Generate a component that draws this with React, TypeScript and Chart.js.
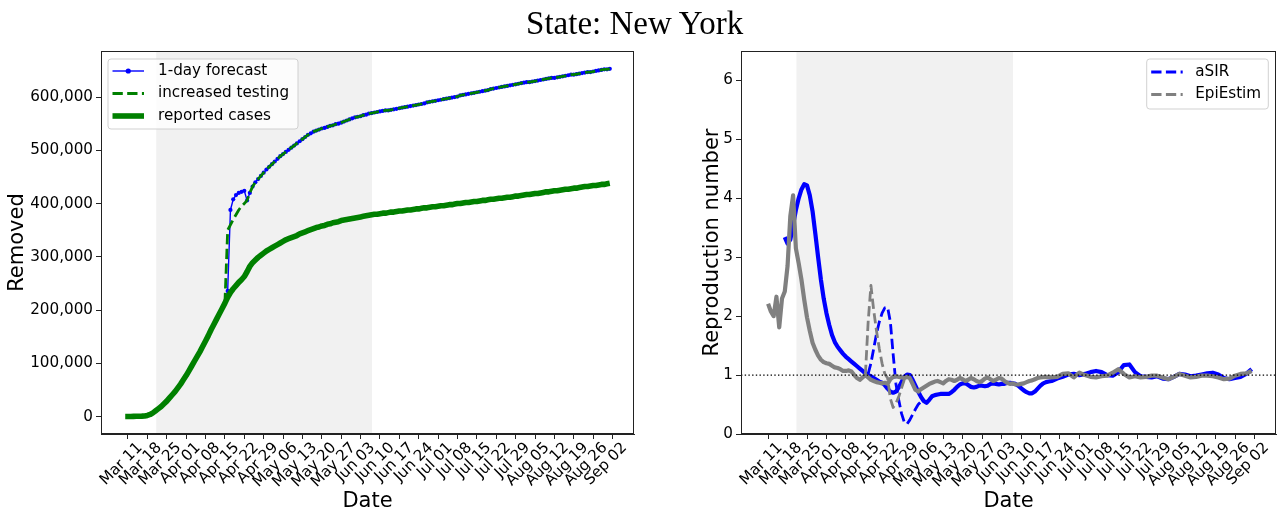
import React, { useEffect, useRef } from "react";
import { Chart, registerables } from "chart.js";

Chart.register(...registerables);

const FONT = "'DejaVu Sans', sans-serif";
const TICK_FONT = { family: FONT, size: 15.2 };
const LABEL_FONT = { family: FONT, size: 21, lineHeight: 1 };

// ---- shared x axis (days after 2020-03-11) ----
const TICK_DAYS = [0, 7, 14, 21, 28, 35, 42, 49, 56, 63, 70, 77, 84, 91, 98, 105, 112, 119, 126, 133, 140, 147, 154, 161, 168, 175];
const TICK_LABELS = ["Mar 11", "Mar 18", "Mar 25", "Apr 01", "Apr 08", "Apr 15", "Apr 22", "Apr 29", "May 06", "May 13", "May 20", "May 27", "Jun 03", "Jun 10", "Jun 17", "Jun 24", "Jul 01", "Jul 08", "Jul 15", "Jul 22", "Jul 29", "Aug 05", "Aug 12", "Aug 19", "Aug 26", "Sep 02"];
const X_RANGE = [-9.75, 182.75];
const SHADE_DAYS = [10.2, 88.1];

// ---- left panel: removed (thousands) ----
const REMOVED_TICKS = [0, 100000, 200000, 300000, 400000, 500000, 600000];
const REMOVED_RANGE = [-32700, 686500];
const REPORTED_START_DAY = -1;
const REPORTED_K = [
  0.2, 0.2, 0.3, 0.4, 0.5, 0.6, 0.8, 1.2, 2.2, 4, 7,
  11, 15, 19, 24, 29, 35, 41, 47, 54, 61,
  69, 77, 86, 95, 104, 113, 122, 132, 142, 152,
  163, 173, 183, 193, 203, 213, 224, 233, 240, 246,
  252, 257, 263, 272, 282, 289, 294, 299, 303, 307,
  311, 314, 317, 320, 323, 326, 329, 332, 334, 336,
  338, 340, 343, 345, 347, 349, 351, 353, 355, 356,
  358, 359, 361, 362, 364, 365, 366, 368, 369, 370,
  371, 372, 373, 374, 375, 376, 377, 378, 379, 380,
  380, 381, 382, 382, 383, 384, 384, 385, 386, 386,
  387, 388, 388, 389, 390, 390, 391, 392, 392, 393,
  394, 394, 395, 396, 396, 397, 398, 398, 399, 400,
  400, 401, 402, 402, 403, 404, 404, 405, 406, 406,
  407, 408, 408, 409, 410, 410, 411, 412, 412, 413,
  414, 414, 415, 416, 417, 417, 418, 419, 419, 420,
  421, 422, 422, 423, 424, 424, 425, 426, 427, 427,
  428, 429, 429, 430, 431, 432, 432, 433, 434, 434,
  435, 436, 436, 437, 438,
];
const TESTING_START_DAY = 35;
const TESTING_K = [
  213, 350, 360, 370, 379,
  388, 395, 400, 406, 420, 432, 440, 446, 452, 458,
  464, 469, 474, 479, 484, 489, 493, 497, 501, 505,
  509, 513, 517, 521, 525, 529, 532, 535, 537, 539,
  541, 542, 544, 546, 547, 549, 550, 552, 554, 556,
  558, 560, 562, 563, 564, 566, 567, 569, 570, 571,
  572, 573, 574, 575, 575, 576, 577, 578, 579, 580,
  581, 582, 583, 584, 585, 586, 587, 588, 590, 591,
  592, 593, 594, 595, 596, 597, 598, 599, 600, 601,
  603, 604, 605, 606, 607, 608, 609, 610, 611, 612,
  613, 615, 616, 617, 618, 619, 620, 621, 622, 623,
  624, 625, 626, 627, 628, 628, 629, 630, 631, 632,
  633, 634, 635, 636, 636, 637, 638, 639, 640, 641,
  642, 642, 643, 644, 645, 646, 647, 647, 648, 649,
  650, 651, 652, 652, 653,
];
// 1-day forecast differs from "increased testing" only on days 35..45
const FORECAST_START_DAY = 35;
const FORECAST_JUMP_K = [213, 236, 388, 408, 416, 420, 422, 424, 406, 420, 432];

// ---- right panel: reproduction number ----
const R_TICKS = [0, 1, 2, 3, 4, 5, 6];
const R_RANGE = [0, 6.5];
const ASIR_DAYS = [
  6, 7, 8, 9, 10, 11, 12, 13, 14, 15, 16, 17, 18, 19, 20, 21, 22, 23, 24, 25,
  26, 27, 28, 29, 30, 31, 32, 33, 34, 35, 36, 37, 38, 39, 40, 41, 42, 43, 44, 45,
  46, 47, 48, 49, 50, 51, 52, 53, 54, 55, 56, 57, 58, 59, 60, 61, 62, 63, 64, 65,
  66, 67, 68, 69, 70, 71, 72, 73, 74, 75, 76, 77, 78, 79, 80, 81, 82, 83, 84, 85,
  86, 87, 88, 89, 90, 91, 92, 93, 94, 95, 96, 97, 98, 99, 100, 101, 102, 103, 104,
  106, 108, 110, 112, 114, 116, 118, 120, 122, 124, 126, 128, 130, 132, 134, 136, 138, 140,
  142, 144, 146, 148, 150, 152, 154, 156, 158, 160, 162, 164, 166, 168, 170, 172, 174,
];
const ASIR_R = [
  3.34, 3.23, 3.30, 3.55, 3.80, 4.00, 4.15, 4.24, 4.22, 4.05, 3.78, 3.40, 3.00, 2.62, 2.30, 2.05, 1.85, 1.68, 1.56, 1.48,
  1.42, 1.36, 1.31, 1.27, 1.23, 1.19, 1.15, 1.11, 1.07, 1.03, 1.00, 0.98, 0.95, 0.92, 0.89, 0.87, 0.83, 0.77, 0.72, 0.70,
  0.72, 0.79, 0.88, 0.97, 1.01, 1.00, 0.92, 0.82, 0.72, 0.63, 0.56, 0.53, 0.58, 0.64, 0.66, 0.67, 0.68, 0.68, 0.68, 0.68,
  0.71, 0.75, 0.80, 0.84, 0.86, 0.86, 0.83, 0.80, 0.79, 0.80, 0.82, 0.82, 0.81, 0.82, 0.85, 0.86, 0.85, 0.84, 0.85, 0.85,
  0.87, 0.87, 0.86, 0.85, 0.82, 0.78, 0.74, 0.71, 0.69, 0.69, 0.72, 0.77, 0.82, 0.86, 0.88, 0.89, 0.90, 0.92, 0.94,
  0.97, 1.01, 1.02, 1.00, 1.02, 1.05, 1.07, 1.05, 1.00, 0.99, 1.05, 1.17, 1.18, 1.05, 0.98, 0.97, 0.96, 0.98,
  0.94, 0.93, 0.97, 1.02, 1.01, 0.98, 0.99, 1.01, 1.03, 1.04, 1.01, 0.95, 0.93, 0.95, 0.97, 1.02, 1.10,
];
const ASIR_RAW_START_DAY = 36;
const ASIR_RAW_R = [1.02, 1.20, 1.45, 1.70, 1.90, 2.05, 2.14, 2.15, 1.90, 1.35, 0.85, 0.58, 0.35, 0.20, 0.17, 0.24, 0.33, 0.42, 0.50, 0.55, 0.57];
const EPI_DAYS = [
  0, 1, 2, 3, 4, 5, 6, 7, 8, 9, 10, 11, 12, 13, 14, 15, 16, 17, 18, 19,
  20, 21, 22, 23, 24, 25, 26, 27, 28, 29, 30, 31, 32, 33, 34, 35, 36, 37, 38, 39,
  40, 41, 42, 43, 44, 45, 46, 47, 48, 49, 50, 51, 52, 53, 54, 55, 56, 57, 58, 59,
  60, 61, 62, 63, 64, 65, 66, 67, 68, 69, 70, 71, 72, 73, 74, 75, 76, 77, 78, 79,
  80, 81, 82, 83, 84, 85, 86, 87, 88, 89, 90, 91, 92, 93, 94, 95, 96, 97, 98,
  100, 102, 104, 106, 108, 110, 112, 114, 116, 118, 120, 122, 124, 126, 128, 130, 132, 134, 136, 138,
  140, 142, 144, 146, 148, 150, 152, 154, 156, 158, 160, 162, 164, 166, 168, 170, 172, 174,
];
const EPI_R = [
  2.21, 2.08, 2.00, 2.33, 1.81, 2.30, 2.42, 2.85, 3.70, 4.05, 3.15, 2.90, 2.62, 2.28, 1.98, 1.75, 1.55, 1.43, 1.33, 1.26,
  1.22, 1.20, 1.19, 1.16, 1.13, 1.12, 1.10, 1.07, 1.07, 1.08, 1.06, 1.00, 0.95, 0.92, 0.96, 1.00, 0.96, 0.92, 0.90, 0.88,
  0.87, 0.86, 0.87, 0.85, 0.93, 0.97, 0.98, 0.97, 0.96, 0.95, 0.97, 0.95, 0.85, 0.75, 0.72, 0.76, 0.79, 0.82, 0.85, 0.87,
  0.89, 0.90, 0.88, 0.86, 0.90, 0.93, 0.92, 0.90, 0.92, 0.95, 0.93, 0.90, 0.92, 0.95, 0.93, 0.90, 0.88, 0.90, 0.94, 0.96,
  0.93, 0.90, 0.92, 0.95, 0.94, 0.90, 0.87, 0.85, 0.86, 0.84, 0.84, 0.85, 0.86, 0.88, 0.90, 0.91, 0.93, 0.95, 0.96,
  0.97, 0.96, 0.97, 1.02, 1.03, 0.96, 1.04, 1.00, 0.97, 0.96, 0.98, 0.99, 1.04, 1.10, 1.02, 0.96, 0.98, 0.96, 0.97, 0.99,
  0.99, 0.96, 0.93, 0.97, 1.02, 0.99, 0.96, 0.97, 0.99, 0.99, 0.98, 0.96, 0.93, 0.94, 0.99, 1.02, 1.03, 1.07,
];
const EPI_RAW_START_DAY = 35;
const EPI_RAW_R = [1.00, 1.90, 2.52, 2.10, 1.75, 1.45, 1.20, 1.02, 0.95, 0.60, 0.45, 0.52, 0.63, 0.78, 0.92];

const BLUE = "#0000ff";
const GREEN = "#008000";
const GRAY = "#808080";
const AXIS = "#222222";
const DASH = [10.3, 4.4];

// ---------- helpers ----------
const seq = (start: number, vals: number[], mul = 1) => vals.map((v, i) => ({ x: start + i, y: v * mul }));
const pairs = (days: number[], vals: number[]) => days.map((d, i) => ({ x: d, y: vals[i] }));

function xAxis() {
  return {
    type: "linear",
    min: X_RANGE[0],
    max: X_RANGE[1],
    afterBuildTicks: (s: any) => {
      s.ticks = TICK_DAYS.map((v) => ({ value: v }));
    },
    afterFit: (s: any) => {
      s.height = 76;
    },
    ticks: {
      autoSkip: false,
      maxRotation: 45,
      minRotation: 45,
      padding: 0,
      labelOffset: 12,
      color: "#000",
      font: TICK_FONT,
      callback: (v: number) => TICK_LABELS[TICK_DAYS.indexOf(v)],
    },
    grid: { drawOnChartArea: false, drawTicks: true, tickLength: 5, color: AXIS, tickWidth: 1 },
    border: { display: true, color: AXIS, width: 1 },
    title: { display: true, text: "Date", color: "#000", font: LABEL_FONT, padding: { top: 0, bottom: -2 } },
  };
}

function yAxis(range: number[], ticks: number[], width: number, title: string, titlePad: number, fmt: (v: number) => string) {
  return {
    type: "linear",
    min: range[0],
    max: range[1],
    afterBuildTicks: (s: any) => {
      s.ticks = ticks.map((v) => ({ value: v }));
    },
    afterFit: (s: any) => {
      s.width = width;
    },
    ticks: { padding: 3, color: "#000", font: TICK_FONT, callback: (v: number) => fmt(v) },
    grid: { drawOnChartArea: false, drawTicks: true, tickLength: 5, color: AXIS },
    border: { display: true, color: AXIS, width: 1 },
    title: { display: true, text: title, color: "#000", font: LABEL_FONT, padding: { top: titlePad, bottom: 0 } },
  };
}

const shadePlugin = {
  id: "shade",
  beforeDatasetsDraw(chart: any) {
    const { ctx, chartArea, scales } = chart;
    const x0 = scales.x.getPixelForValue(SHADE_DAYS[0]);
    const x1 = scales.x.getPixelForValue(SHADE_DAYS[1]);
    ctx.save();
    ctx.fillStyle = "#f1f1f1";
    ctx.fillRect(x0, chartArea.top, x1 - x0, chartArea.bottom - chartArea.top);
    ctx.restore();
  },
};

const framePlugin = {
  id: "frame",
  afterDraw(chart: any) {
    const { ctx, chartArea } = chart;
    ctx.save();
    ctx.strokeStyle = AXIS;
    ctx.lineWidth = 1;
    const l = Math.round(chartArea.left) + 0.5;
    const t = Math.round(chartArea.top) + 0.5;
    const r = Math.round(chartArea.right) - 0.5;
    const b = Math.round(chartArea.bottom) - 0.5;
    ctx.strokeRect(l, t, r - l, b - t);
    ctx.restore();
  },
};

type Handle = (ctx: CanvasRenderingContext2D, x0: number, x1: number, y: number) => void;

function drawLegend(ctx: CanvasRenderingContext2D, left: number, top: number, w: number, h: number, firstRow: number, rowGap: number, textDx: number, items: [string, Handle][]) {
  ctx.save();
  ctx.beginPath();
  (ctx as any).roundRect(left, top, w, h, 3);
  ctx.fillStyle = "rgba(255,255,255,0.8)";
  ctx.fill();
  ctx.strokeStyle = "rgba(204,204,204,0.9)";
  ctx.lineWidth = 1;
  ctx.stroke();
  items.forEach(([label, handle], i) => {
    const y = top + firstRow + i * rowGap;
    ctx.save();
    handle(ctx, left + 4.5, left + 36, y);
    ctx.restore();
    ctx.fillStyle = "#000";
    ctx.font = `15.2px ${FONT}`;
    ctx.textBaseline = "middle";
    ctx.textAlign = "left";
    ctx.fillText(label, left + textDx, y);
  });
  ctx.restore();
}

const line = (color: string, width: number, dash: number[] = [], dot = 0): Handle => (ctx, x0, x1, y) => {
  ctx.strokeStyle = color;
  ctx.lineWidth = width;
  ctx.setLineDash(dash);
  ctx.beginPath();
  ctx.moveTo(x0, y);
  ctx.lineTo(x1, y);
  ctx.stroke();
  if (dot > 0) {
    ctx.setLineDash([]);
    ctx.fillStyle = color;
    ctx.beginPath();
    ctx.arc((x0 + x1) / 2, y, dot, 0, Math.PI * 2);
    ctx.fill();
  }
};

const leftLegend = {
  id: "leftLegend",
  afterDraw(chart: any) {
    const { ctx, chartArea } = chart;
    drawLegend(ctx, chartArea.left + 7, chartArea.top + 8, 190, 70, 12, 22.5, 50, [
      ["1-day forecast", line(BLUE, 1.4, [], 2.6)],
      ["increased testing", line(GREEN, 2.8, DASH)],
      ["reported cases", line(GREEN, 5.6)],
    ]);
  },
};

const rightLegend = {
  id: "rightLegend",
  afterDraw(chart: any) {
    const { ctx, chartArea } = chart;
    const w = 121.6;
    drawLegend(ctx, chartArea.right - 7.7 - w, chartArea.top + 8, w, 50, 13, 22.5, 48.5, [
      ["aSIR", line(BLUE, 2.8, DASH)],
      ["EpiEstim", line(GRAY, 2.8, DASH)],
    ]);
  },
};

const unityLine = {
  id: "unity",
  afterDatasetsDraw(chart: any) {
    const { ctx, chartArea, scales } = chart;
    const y = scales.y.getPixelForValue(1);
    ctx.save();
    ctx.strokeStyle = "#000";
    ctx.lineWidth = 1.4;
    ctx.setLineDash([1.4, 2.3]);
    ctx.beginPath();
    ctx.moveTo(chartArea.left, y);
    ctx.lineTo(chartArea.right, y);
    ctx.stroke();
    ctx.restore();
  },
};

const baseOptions = {
  responsive: false,
  animation: false,
  devicePixelRatio: 1,
  events: [],
  plugins: { legend: { display: false }, tooltip: { enabled: false } },
  elements: { line: { tension: 0, borderCapStyle: "butt", borderJoinStyle: "round" } },
};

function leftConfig(): any {
  const forecast = seq(FORECAST_START_DAY, FORECAST_JUMP_K, 1000).concat(
    seq(TESTING_START_DAY + FORECAST_JUMP_K.length, TESTING_K.slice(FORECAST_JUMP_K.length), 1000)
  );
  return {
    type: "line",
    data: {
      datasets: [
        { label: "reported cases", data: seq(REPORTED_START_DAY, REPORTED_K, 1000), borderColor: GREEN, borderWidth: 5.6, pointRadius: 0 },
        { label: "increased testing", data: seq(TESTING_START_DAY, TESTING_K, 1000), borderColor: GREEN, borderWidth: 2.8, borderDash: DASH, pointRadius: 0 },
        { label: "1-day forecast", data: forecast, borderColor: BLUE, borderWidth: 1.4, pointRadius: 2.1, pointBorderWidth: 0, pointBackgroundColor: BLUE },
      ],
    },
    options: {
      ...baseOptions,
      layout: { padding: { top: 51, right: 6, left: 0, bottom: 0 } },
      scales: {
        x: xAxis(),
        y: yAxis(REMOVED_RANGE, REMOVED_TICKS, 101, "Removed", 7, (v) => v.toLocaleString("en-US")),
      },
    },
    plugins: [shadePlugin, framePlugin, leftLegend],
  };
}

function rightConfig(): any {
  return {
    type: "line",
    data: {
      datasets: [
        { label: "EpiEstim solid", data: pairs(EPI_DAYS, EPI_R), borderColor: GRAY, borderWidth: 4.2, pointRadius: 0 },
        { label: "EpiEstim", data: seq(EPI_RAW_START_DAY, EPI_RAW_R), borderColor: GRAY, borderWidth: 2.8, borderDash: DASH, pointRadius: 0 },
        { label: "aSIR solid", data: pairs(ASIR_DAYS, ASIR_R), borderColor: BLUE, borderWidth: 4.2, pointRadius: 0 },
        { label: "aSIR", data: seq(ASIR_RAW_START_DAY, ASIR_RAW_R), borderColor: BLUE, borderWidth: 2.8, borderDash: DASH, pointRadius: 0 },
      ],
    },
    options: {
      ...baseOptions,
      layout: { padding: { top: 51, right: 1, left: 0, bottom: 0 } },
      scales: {
        x: xAxis(),
        y: yAxis(R_RANGE, R_TICKS, 51, "Reproduction number", 12, (v) => String(v)),
      },
    },
    plugins: [shadePlugin, unityLine, framePlugin, rightLegend],
  };
}

export default function App() {
  const leftRef = useRef<HTMLCanvasElement>(null);
  const rightRef = useRef<HTMLCanvasElement>(null);
  useEffect(() => {
    const c1 = new Chart(leftRef.current as HTMLCanvasElement, leftConfig());
    const c2 = new Chart(rightRef.current as HTMLCanvasElement, rightConfig());
    return () => {
      c1.destroy();
      c2.destroy();
    };
  }, []);
  return (
    <div style={{ position: "fixed", left: 0, top: 0, width: 1277, height: 510, background: "#fff", overflow: "hidden" }}>
      <canvas ref={leftRef} width={640} height={510} style={{ position: "absolute", left: 0, top: 0, width: 640, height: 510 }} />
      <canvas ref={rightRef} width={587} height={510} style={{ position: "absolute", left: 690, top: 0, width: 587, height: 510 }} />
      <div
        style={{
          position: "absolute",
          left: 634.7,
          top: 6.7,
          transform: "translateX(-50%)",
          fontFamily: "'Liberation Serif', serif",
          fontSize: 33,
          lineHeight: "33px",
          whiteSpace: "nowrap",
          color: "#000",
        }}
      >
        State: New York
      </div>
    </div>
  );
}
